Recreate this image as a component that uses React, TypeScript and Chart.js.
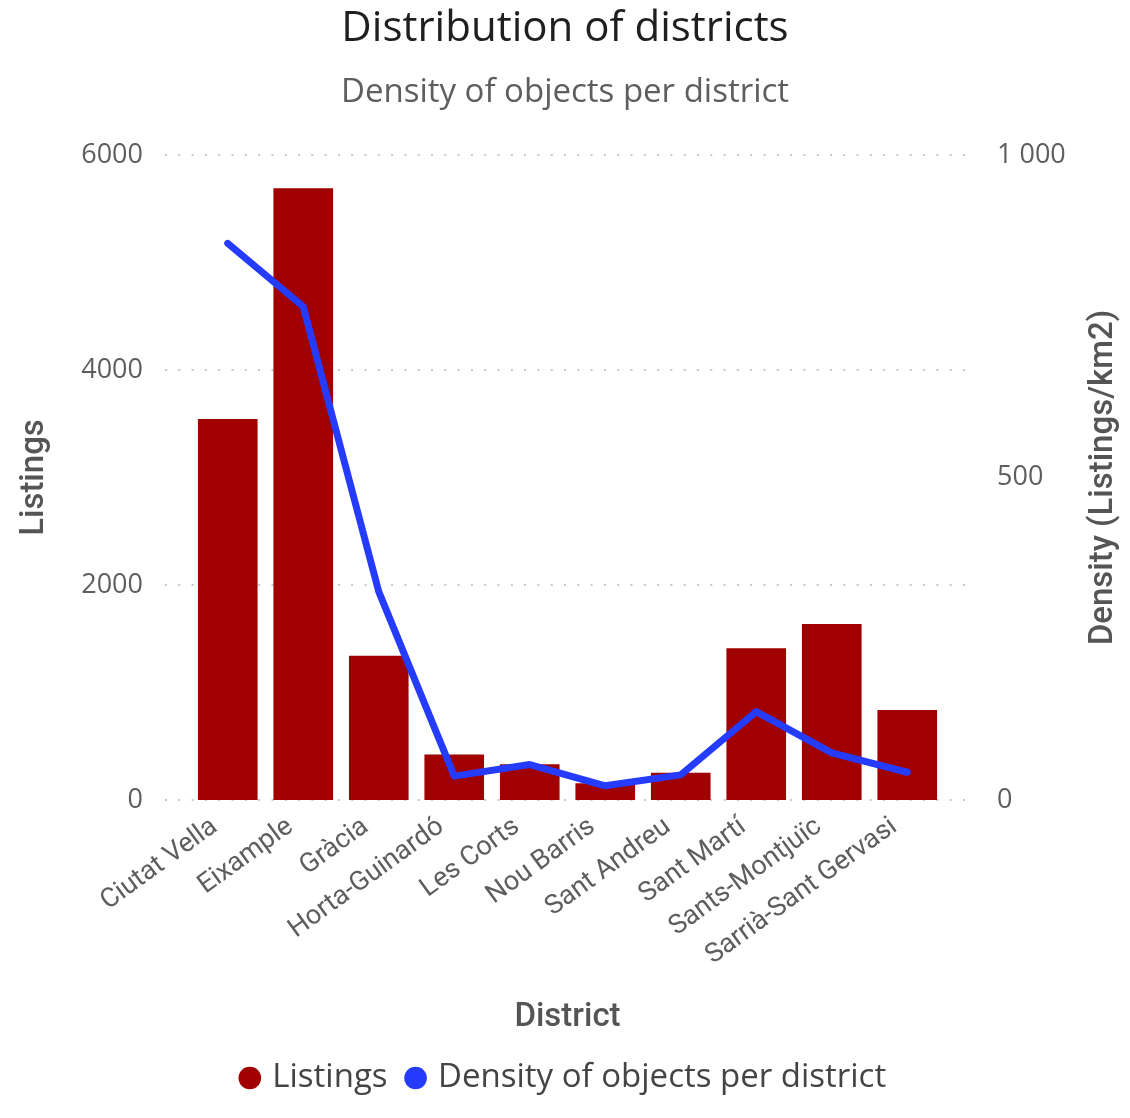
import React, { useEffect, useRef } from 'react';
import { Chart, registerables } from 'chart.js';

Chart.register(...registerables);

const categories = [
  'Ciutat Vella',
  'Eixample',
  'Gràcia',
  'Horta-Guinardó',
  'Les Corts',
  'Nou Barris',
  'Sant Andreu',
  'Sant Martí',
  'Sants-Montjuïc',
  'Sarrià-Sant Gervasi',
];
const listings = [3544, 5690, 1342, 424, 332, 155, 254, 1411, 1637, 837];
const density = [863, 765, 323, 37, 55, 22, 39, 137, 73, 43];
const leftTicks = [0, 2000, 4000, 6000];
const rightTicks = [0, 500, 1000];

const BAR_COLOR = '#A00000';
const LINE_COLOR = '#253CFF';
const AXIS_TEXT = '#605E5C';

const fmtSpace = (v: number) => String(v).replace(/\B(?=(\d{3})+(?!\d))/g, ' ');

const gridPlugin = {
  id: 'extGrid',
  beforeDatasetsDraw(chart: any) {
    const { ctx, chartArea } = chart;
    const y = chart.scales.y;
    ctx.save();
    ctx.strokeStyle = '#c8c8c8';
    ctx.lineWidth = 2;
    ctx.setLineDash([2, 11.3]);
    leftTicks.forEach((t) => {
      const py = Math.round(y.getPixelForValue(t));
      ctx.beginPath();
      ctx.moveTo(chartArea.left - 25, py);
      ctx.lineTo(chartArea.right + 25, py);
      ctx.stroke();
    });
    ctx.restore();
  },
};

const rightTitlePlugin = {
  id: 'rightTitle',
  afterDraw(chart: any) {
    const { ctx, chartArea } = chart;
    ctx.save();
    ctx.translate(1104, (chartArea.top + chartArea.bottom) / 2);
    ctx.rotate(-Math.PI / 2);
    ctx.textAlign = 'center';
    ctx.textBaseline = 'middle';
    ctx.fillStyle = '#555555';
    ctx.font = '500 33px Roboto';
    ctx.fillText('Density (Listings/km2)', 0, 0);
    ctx.restore();
  },
};

export default function App() {
  const ref = useRef<HTMLCanvasElement | null>(null);

  useEffect(() => {
    if (!ref.current) return;
    const chart = new Chart(ref.current, {
      type: 'bar',
      data: {
        labels: categories,
        datasets: [
          {
            type: 'bar',
            label: 'Listings',
            data: listings,
            backgroundColor: BAR_COLOR,
            borderWidth: 0,
            barPercentage: 0.79,
            categoryPercentage: 1.0,
            yAxisID: 'y',
            order: 2,
          },
          {
            type: 'line',
            label: 'Density of objects per district',
            data: density,
            borderColor: LINE_COLOR,
            backgroundColor: LINE_COLOR,
            borderWidth: 7,
            pointRadius: 0,
            pointHoverRadius: 0,
            tension: 0,
            borderCapStyle: 'round',
            borderJoinStyle: 'round',
            yAxisID: 'y1',
            order: 1,
          } as any,
        ],
      },
      options: {
        animation: false,
        responsive: true,
        maintainAspectRatio: false,
        layout: { padding: { left: 0, right: 0, top: 0, bottom: 13.5 } },
        plugins: {
          title: {
            display: true,
            text: 'Distribution of districts',
            color: '#201F1E',
            font: { family: 'Open Sans', size: 42, weight: 'normal' },
            padding: { top: 4, bottom: 0 },
          },
          subtitle: {
            display: true,
            text: 'Density of objects per district',
            color: AXIS_TEXT,
            font: { family: 'Open Sans', size: 33, weight: 'normal' },
            padding: { top: 18.8, bottom: 42.2 },
          },
          legend: {
            position: 'bottom',
            labels: {
              usePointStyle: true,
              pointStyle: 'circle',
              boxWidth: 12,
              boxHeight: 16,
              padding: 22,
              color: '#444444',
              font: { family: 'Open Sans', size: 33 },
              sort: (a: any, b: any) => a.datasetIndex - b.datasetIndex,
              generateLabels: (c: any) =>
                (Chart.defaults.plugins.legend.labels.generateLabels as any)(c).map((l: any) => ({
                  ...l,
                  lineWidth: 0,
                  strokeStyle: 'rgba(0,0,0,0)',
                })),
            },
          },
          tooltip: { enabled: false },
        },
        scales: {
          x: {
            grid: { display: false },
            border: { display: false },
            ticks: {
              color: AXIS_TEXT,
              font: { family: 'Roboto', size: 27 },
              minRotation: 36,
              maxRotation: 36,
              autoSkip: false,
              padding: 3,
              labelOffset: -13,
            },
            title: {
              display: true,
              text: 'District',
              color: '#555555',
              font: { family: 'Roboto', size: 33, weight: '500' },
              padding: { top: 0, bottom: 2.3 },
            },
            afterFit: (s: any) => {
              s.height = 239.5;
            },
          },
          y: {
            position: 'left',
            min: 0,
            max: 6000,
            grid: { display: false },
            border: { display: false },
            afterBuildTicks: (s: any) => {
              s.ticks = leftTicks.map((v) => ({ value: v }));
            },
            ticks: {
              color: AXIS_TEXT,
              font: { family: 'Open Sans', size: 27 },
              padding: 39,
              callback: (v: any) => String(v),
            },
            title: {
              display: true,
              text: 'Listings',
              color: '#555555',
              font: { family: 'Roboto', size: 33, weight: '500' },
              padding: { top: 15, bottom: 0 },
            },
            afterFit: (s: any) => {
              s.width = 190;
            },
          },
          y1: {
            position: 'right',
            min: 0,
            max: 1000,
            grid: { display: false },
            border: { display: false },
            afterBuildTicks: (s: any) => {
              s.ticks = rightTicks.map((v) => ({ value: v }));
            },
            ticks: {
              color: AXIS_TEXT,
              font: { family: 'Open Sans', size: 27 },
              padding: 44,
              callback: (v: any) => fmtSpace(Number(v)),
            },
            afterFit: (s: any) => {
              s.width = 185;
            },
          },
        },
      } as any,
      plugins: [gridPlugin, rightTitlePlugin],
    });
    return () => chart.destroy();
  }, []);

  return (
    <div style={{ position: 'absolute', left: 0, top: 0, width: 1130, height: 1118, background: '#fff' }}>
      <canvas ref={ref} />
    </div>
  );
}
